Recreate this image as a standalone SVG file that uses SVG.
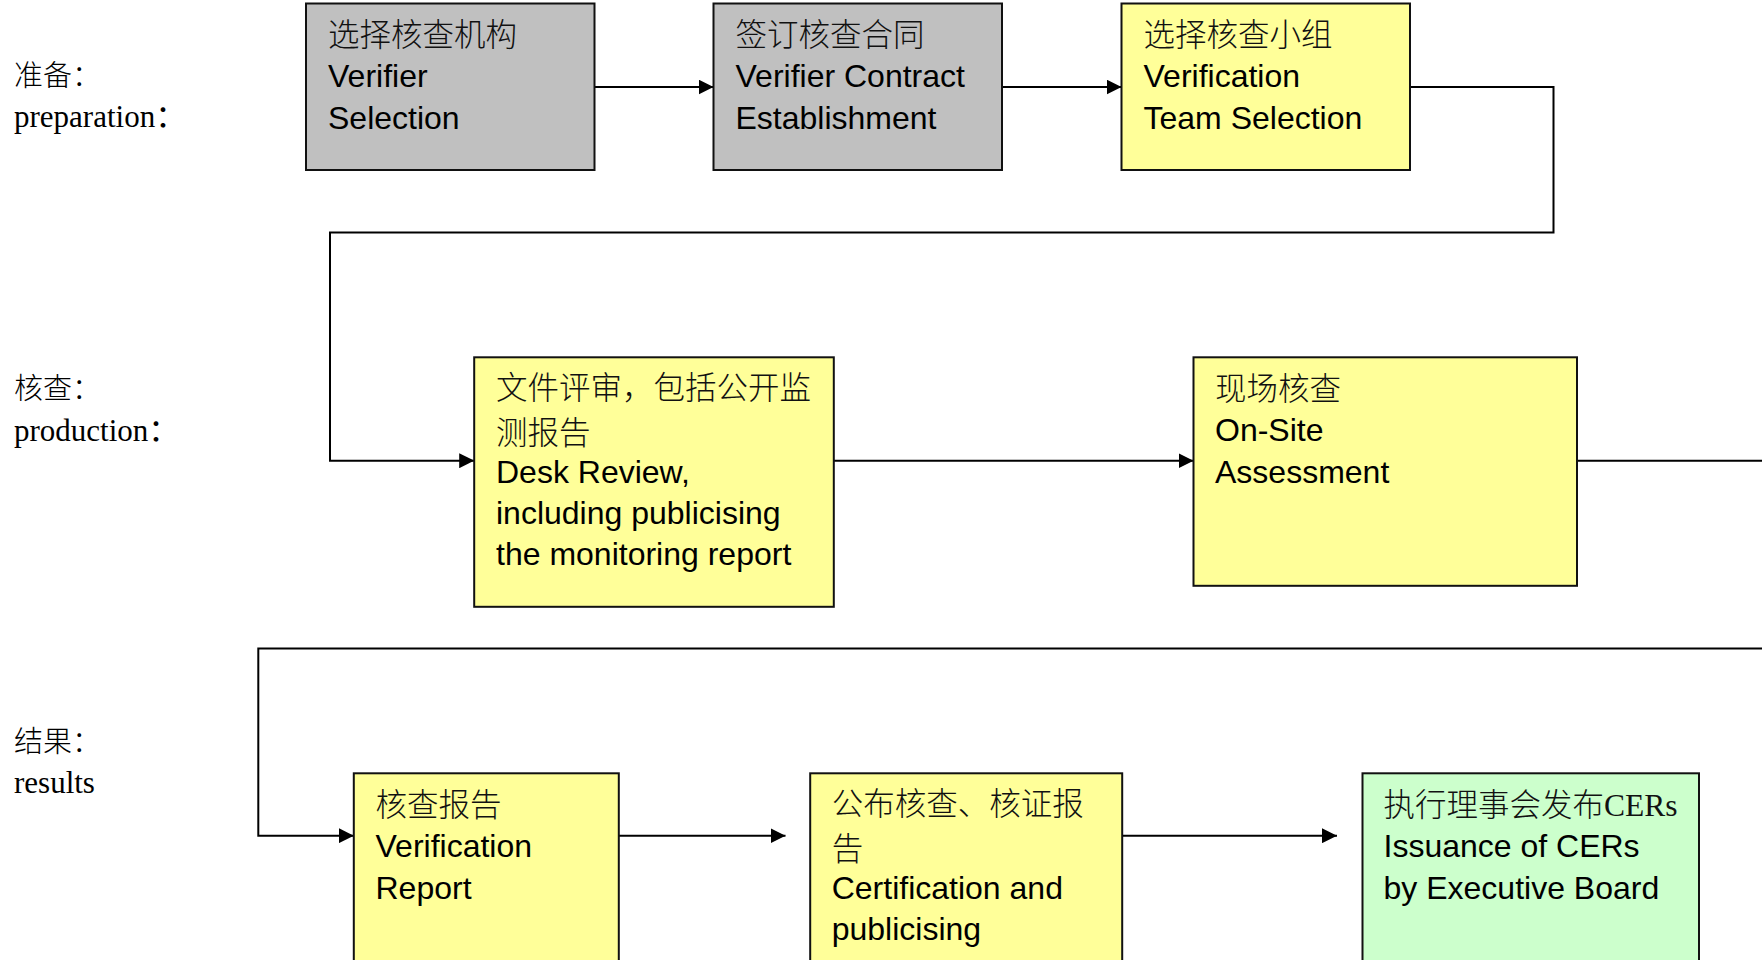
<svg xmlns="http://www.w3.org/2000/svg" width="1762" height="960" viewBox="0 0 1762 960">
<defs>
<style>
.box{stroke:#111;stroke-width:2}
.gray{fill:#C0C0C0}
.yel{fill:#FFFF99}
.grn{fill:#CCFFCC}
.t{font-family:"Liberation Sans","Noto Sans CJK SC",sans-serif;font-size:32px;fill:#000}
.cj{font-family:"Noto Sans CJK SC",sans-serif;font-size:31.5px;font-weight:300;fill:#111}
.sf{font-family:"Liberation Serif","Noto Sans CJK SC",serif;font-weight:400}
.lb{font-family:"Liberation Serif","Noto Sans CJK SC",serif;font-size:31px;fill:#000}
.lbc{font-family:"Noto Sans CJK SC",serif;font-size:29px;font-weight:300}
.c{fill:none;stroke:#000;stroke-width:2}
</style>
<marker id="ah" markerUnits="userSpaceOnUse" markerWidth="15" markerHeight="15" refX="15" refY="7.5" orient="auto" viewBox="0 0 15 15">
<path d="M0,0 L15,7.5 L0,15 z" fill="#000"/>
</marker>
</defs>
<rect width="1762" height="960" fill="#fff"/>

<g id="labels">
<text class="lb"><tspan class="lbc" x="14" y="86">准备：</tspan><tspan x="14" y="127.3">preparation：</tspan></text>
<text class="lb"><tspan class="lbc" x="14" y="399">核查：</tspan><tspan x="14" y="440.5">production：</tspan></text>
<text class="lb"><tspan class="lbc" x="14" y="752">结果：</tspan><tspan x="14" y="793">results</tspan></text>
</g>

<g id="connectors">
<path class="c" d="M594.5,87 H713.5" marker-end="url(#ah)"/>
<path class="c" d="M1002,87 H1121.5" marker-end="url(#ah)"/>
<path class="c" d="M1410,87 H1553.5 V232.5 H330 V460.7 H474.2" marker-end="url(#ah)"/>
<path class="c" d="M833.8,460.7 H1193.5" marker-end="url(#ah)"/>
<path class="c" d="M1577,460.7 H1800 V648.4 H258.3 V835.7 H353.8" marker-end="url(#ah)"/>
<path class="c" d="M618.8,835.7 H785.5" marker-end="url(#ah)"/>
<path class="c" d="M1122.2,835.7 H1337" marker-end="url(#ah)"/>
</g>

<g id="n1">
<rect class="box gray" x="306" y="3.5" width="288.5" height="166.5"/>
<text class="t"><tspan class="cj" x="328" y="46">选择核查机构</tspan><tspan x="328" y="87.3">Verifier</tspan><tspan x="328" y="128.6">Selection</tspan></text>
</g>
<g id="n2">
<rect class="box gray" x="713.5" y="3.5" width="288.5" height="166.5"/>
<text class="t"><tspan class="cj" x="735.5" y="46">签订核查合同</tspan><tspan x="735.5" y="87.3">Verifier Contract</tspan><tspan x="735.5" y="128.6">Establishment</tspan></text>
</g>
<g id="n3">
<rect class="box yel" x="1121.5" y="3.5" width="288.5" height="166.5"/>
<text class="t"><tspan class="cj" x="1143.5" y="46">选择核查小组</tspan><tspan x="1143.5" y="87.3">Verification</tspan><tspan x="1143.5" y="128.6">Team Selection</tspan></text>
</g>
<g id="n4">
<rect class="box yel" x="474.2" y="357.3" width="359.6" height="249.5"/>
<text class="t"><tspan class="cj" x="496" y="398.5">文件评审，包括公开监</tspan><tspan class="cj" x="496" y="444.2">测报告</tspan><tspan x="496" y="482.6">Desk Review,</tspan><tspan x="496" y="523.9">including publicising</tspan><tspan x="496" y="565.2">the monitoring report</tspan></text>
</g>
<g id="n5">
<rect class="box yel" x="1193.5" y="357.3" width="383.5" height="228.5"/>
<text class="t"><tspan class="cj" x="1215" y="400">现场核查</tspan><tspan x="1215" y="441.3">On-Site</tspan><tspan x="1215" y="482.6">Assessment</tspan></text>
</g>
<g id="n6">
<rect class="box yel" x="353.8" y="773.3" width="265" height="230"/>
<text class="t"><tspan class="cj" x="375.5" y="816">核查报告</tspan><tspan x="375.5" y="857.3">Verification</tspan><tspan x="375.5" y="898.6">Report</tspan></text>
</g>
<g id="n7">
<rect class="box yel" x="810.2" y="773.3" width="312" height="230"/>
<text class="t"><tspan class="cj" x="831.7" y="814.5">公布核查、核证报</tspan><tspan class="cj" x="831.7" y="860.2">告</tspan><tspan x="831.7" y="898.6">Certification and</tspan><tspan x="831.7" y="939.9">publicising</tspan></text>
</g>
<g id="n8">
<rect class="box grn" x="1362.5" y="773.3" width="336.5" height="230"/>
<text class="t"><tspan class="cj" x="1383.5" y="816">执行理事会发布<tspan class="sf">CERs</tspan></tspan><tspan x="1383.5" y="857.3">Issuance of CERs</tspan><tspan x="1383.5" y="898.6">by Executive Board</tspan></text>
</g>
</svg>
